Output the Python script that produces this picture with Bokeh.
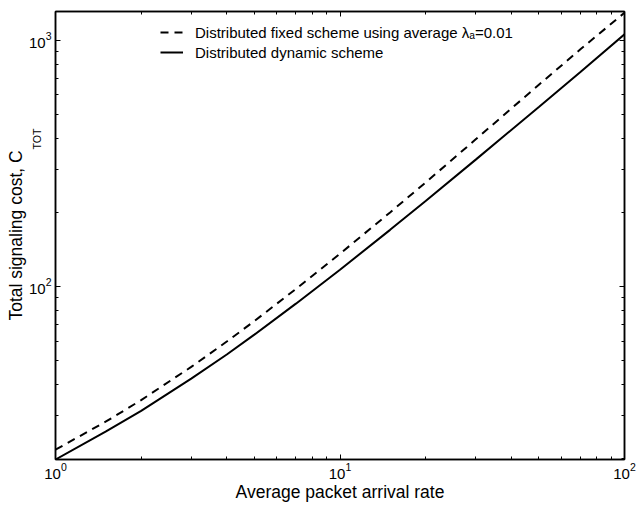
import math
from bokeh.plotting import figure
from bokeh.models import Range1d, FixedTicker, LogAxis, CustomJSTickFormatter, Label
from bokeh.embed import file_html
from bokeh.resources import INLINE

# ---- data ----
rate = [1, 1.5, 2, 3, 4, 5, 7, 10, 15, 20, 30, 50, 70, 100]
dynamic_cost = [19.8, 25.7, 31.2, 42.2, 52.9, 63.7, 85.1, 116.9, 169.8, 222.5, 327.6, 536, 744, 1058]
fixed_cost = [21.7, 28.2, 34.5, 47.1, 59.7, 72.3, 97.7, 135.8, 199.9, 264.5, 396, 660, 920, 1295]

x_major = [1, 10, 100]
x_minor = [2, 3, 4, 5, 6, 7, 8, 9, 20, 30, 40, 50, 60, 70, 80, 90]
y_major = [100, 1000]
y_minor = [20, 30, 40, 50, 60, 70, 80, 90, 200, 300, 400, 500, 600, 700, 800, 900]

x_label = "Average packet arrival rate"
y_label = "Total signaling cost, C"
y_label_sub = "TOT"
fixed_name = "Distributed fixed scheme using average \u03bb\u2090=0.01"
dynamic_name = "Distributed dynamic scheme"

FONT = "Liberation Sans"

p = figure(width=636, height=506, x_axis_type="log", y_axis_type="log",
           x_range=Range1d(1, 100), y_range=Range1d(19.8, 1310),
           output_backend="svg", toolbar_location=None,
           min_border_left=55, min_border_right=12, min_border_top=11, min_border_bottom=47)
p.xgrid.visible = False
p.ygrid.visible = False
p.outline_line_color = "black"
p.outline_line_width = 1.5
p.background_fill_color = "white"
p.border_fill_color = "white"

p.line(rate, fixed_cost, line_dash="8 6", line_width=2, color="black", legend_label=fixed_name)
p.line(rate, dynamic_cost, line_width=2, color="black", legend_label=dynamic_name)


def style_axis(ax):
    ax.axis_line_color = "black"
    ax.axis_line_width = 1.5
    ax.major_tick_in = 5
    ax.major_tick_out = 0
    ax.minor_tick_in = 3
    ax.minor_tick_out = 0
    ax.major_tick_line_color = "black"
    ax.minor_tick_line_color = "black"
    ax.major_label_text_font = FONT
    ax.major_label_text_font_size = "15px"
    ax.major_label_text_color = "black"
    ax.axis_label_text_font = FONT
    ax.axis_label_text_font_size = "17.5px"
    ax.axis_label_text_font_style = "normal"
    ax.axis_label_text_color = "black"
    ax.axis_label_standoff = 0


xt = FixedTicker(ticks=x_major, minor_ticks=x_minor)
yt = FixedTicker(ticks=y_major, minor_ticks=y_minor)

xa = p.xaxis[0]
xa.ticker = xt
style_axis(xa)
xa.major_label_standoff = 3
xa.axis_label = x_label

ya = p.yaxis[0]
ya.ticker = yt
style_axis(ya)
ya.major_label_standoff = 4
ya.axis_label = y_label

for loc, tk in (("above", xt), ("right", yt)):
    ax = LogAxis(ticker=tk, formatter=CustomJSTickFormatter(code="return ''"))
    style_axis(ax)
    ax.major_label_text_font_size = "0px"
    ax.major_label_standoff = 0
    p.add_layout(ax, loc)

lg = p.legend[0]
lg.location = (105, 398)
lg.label_text_font = FONT
lg.label_text_font_size = "15px"
lg.label_text_color = "black"
lg.glyph_width = 23
lg.glyph_height = 18
lg.label_height = 18
lg.label_standoff = 12
lg.spacing = 2
lg.padding = 0
lg.margin = 0
lg.border_line_color = None
lg.background_fill_alpha = 0

# subscript of the y-axis label, kept in the (thin) right panel so it is not clipped
p.add_layout(Label(x=-588, y=310, x_units="screen", y_units="screen", text=y_label_sub,
                   angle=math.pi / 2, text_align="left", text_baseline="alphabetic",
                   text_font=FONT, text_font_size="10.5px", text_color="black"), "right")

open("out.html", "w").write(file_html(p, INLINE))
